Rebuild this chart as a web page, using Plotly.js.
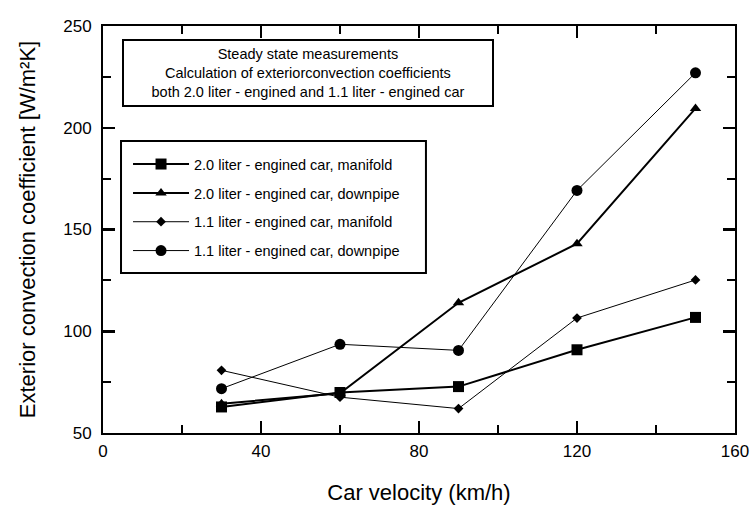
<!DOCTYPE html>
<html>
<head>
<meta charset="utf-8">
<script src="https://cdn.plot.ly/plotly-3.0.1.min.js"></script>
<style>html,body{margin:0;padding:0;background:#fff;}#chart{width:752px;height:510px;}</style>
</head>
<body>
<div id="chart"></div>
<script>
// Data
const velocity = [30, 60, 90, 120, 150];
const car20Manifold = [62.8, 69.9, 72.8, 90.9, 106.8];
const car20Downpipe = [64.4, 69.5, 114.0, 143.0, 209.5];
const car11Manifold = [80.8, 67.6, 62.0, 106.5, 125.2];
const car11Downpipe = [71.8, 93.6, 90.6, 169.2, 227.0];
const seriesNames = [
  '2.0 liter - engined car, manifold',
  '2.0 liter - engined car, downpipe',
  '1.1 liter - engined car, manifold',
  '1.1 liter - engined car, downpipe'
];
const xTicks = [0, 40, 80, 120, 160];
const yTicks = [50, 100, 150, 200, 250];

const FONT = 'Liberation Sans, Arial, sans-serif';

const specs = [
  {y: car20Manifold, symbol: 'square', size: 11, lw: 2},
  {y: car20Downpipe, symbol: 'triangle-up', size: 10, lw: 2},
  {y: car11Manifold, symbol: 'diamond', size: 7.5, lw: 1},
  {y: car11Downpipe, symbol: 'circle', size: 11, lw: 1}
];
const traces = specs.map((s, i) => ({
  type: 'scatter',
  mode: 'lines+markers',
  x: velocity,
  y: s.y,
  name: seriesNames[i],
  legendgroup: 'g' + i,
  xaxis: i === 3 ? 'x2' : 'x',
  yaxis: i === 3 ? 'y2' : 'y',
  line: {color: '#000', width: s.lw},
  marker: {symbol: s.symbol, size: s.size, color: '#000'}
}));

const tickCommon = {
  showline: true, linecolor: '#000', linewidth: 2,
  ticks: 'inside', ticklen: 12, tickwidth: 2.5, tickcolor: '#000',
  showgrid: false, zeroline: false,
  tickfont: {family: FONT, size: 17, color: '#000'}
};
const xMinor = {ticks: 'inside', ticklen: 8, tickwidth: 2, tickcolor: '#000', dtick: 20, tick0: 0, showgrid: false};
const yMinor = {ticks: 'inside', ticklen: 8, tickwidth: 2, tickcolor: '#000', dtick: 25, tick0: 50, showgrid: false};

const layout = {
  width: 752, height: 510,
  margin: {l: 103, r: 17, t: 26, b: 77},
  paper_bgcolor: '#fff', plot_bgcolor: '#fff',
  font: {family: FONT, color: '#000'},
  showlegend: true,
  xaxis: Object.assign({}, tickCommon, {
    range: [0, 160], tickmode: 'array', tickvals: xTicks, ticktext: xTicks.map(String),
    ticklabelstandoff: 2, minor: xMinor,
    title: {text: 'Car velocity (km/h)', font: {family: FONT, size: 22, color: '#000'}, standoff: 24}
  }),
  yaxis: Object.assign({}, tickCommon, {
    range: [50, 250], tickmode: 'array', tickvals: yTicks, ticktext: yTicks.map(String),
    ticklabelstandoff: 6, minor: yMinor,
    title: {text: 'Exterior convection coefficient [W/m²K]', font: {family: FONT, size: 22, color: '#000'}, standoff: 22}
  }),
  xaxis2: Object.assign({}, tickCommon, {
    overlaying: 'x', matches: 'x', side: 'top', anchor: 'y2',
    range: [0, 160], tickmode: 'array', tickvals: xTicks, showticklabels: false, minor: xMinor
  }),
  yaxis2: Object.assign({}, tickCommon, {
    overlaying: 'y', matches: 'y', side: 'right', anchor: 'x2',
    range: [50, 250], tickmode: 'array', tickvals: yTicks, showticklabels: false, minor: yMinor
  }),
  legend: {
    x: 0.0396, y: 0.700, xanchor: 'left', yanchor: 'top',
    borderwidth: 0, bgcolor: 'rgba(0,0,0,0)',
    font: {family: FONT, size: 14.5, color: '#000'},
    traceorder: 'grouped', tracegroupgap: 7, itemwidth: 56
  },
  shapes: [{
    type: 'rect', xref: 'paper', yref: 'paper',
    x0: 0.0285, x1: 0.511, y0: 0.393, y1: 0.7174,
    line: {color: '#000', width: 2}, fillcolor: 'rgba(0,0,0,0)'
  }],
  annotations: [{
    xref: 'paper', yref: 'paper', x: 0.3244, y: 0.8845, xanchor: 'center', yanchor: 'middle',
    text: 'Steady state measurements<br>Calculation of exteriorconvection coefficients<br>both 2.0 liter - engined and 1.1 liter - engined car',
    showarrow: false, align: 'center',
    font: {family: FONT, size: 14.5, color: '#000'},
    bordercolor: '#000', borderwidth: 2, bgcolor: '#fff',
    width: 366, height: 62
  }]
};

Plotly.newPlot('chart', traces, layout, {displayModeBar: false, staticPlot: true});
</script>
</body>
</html>
